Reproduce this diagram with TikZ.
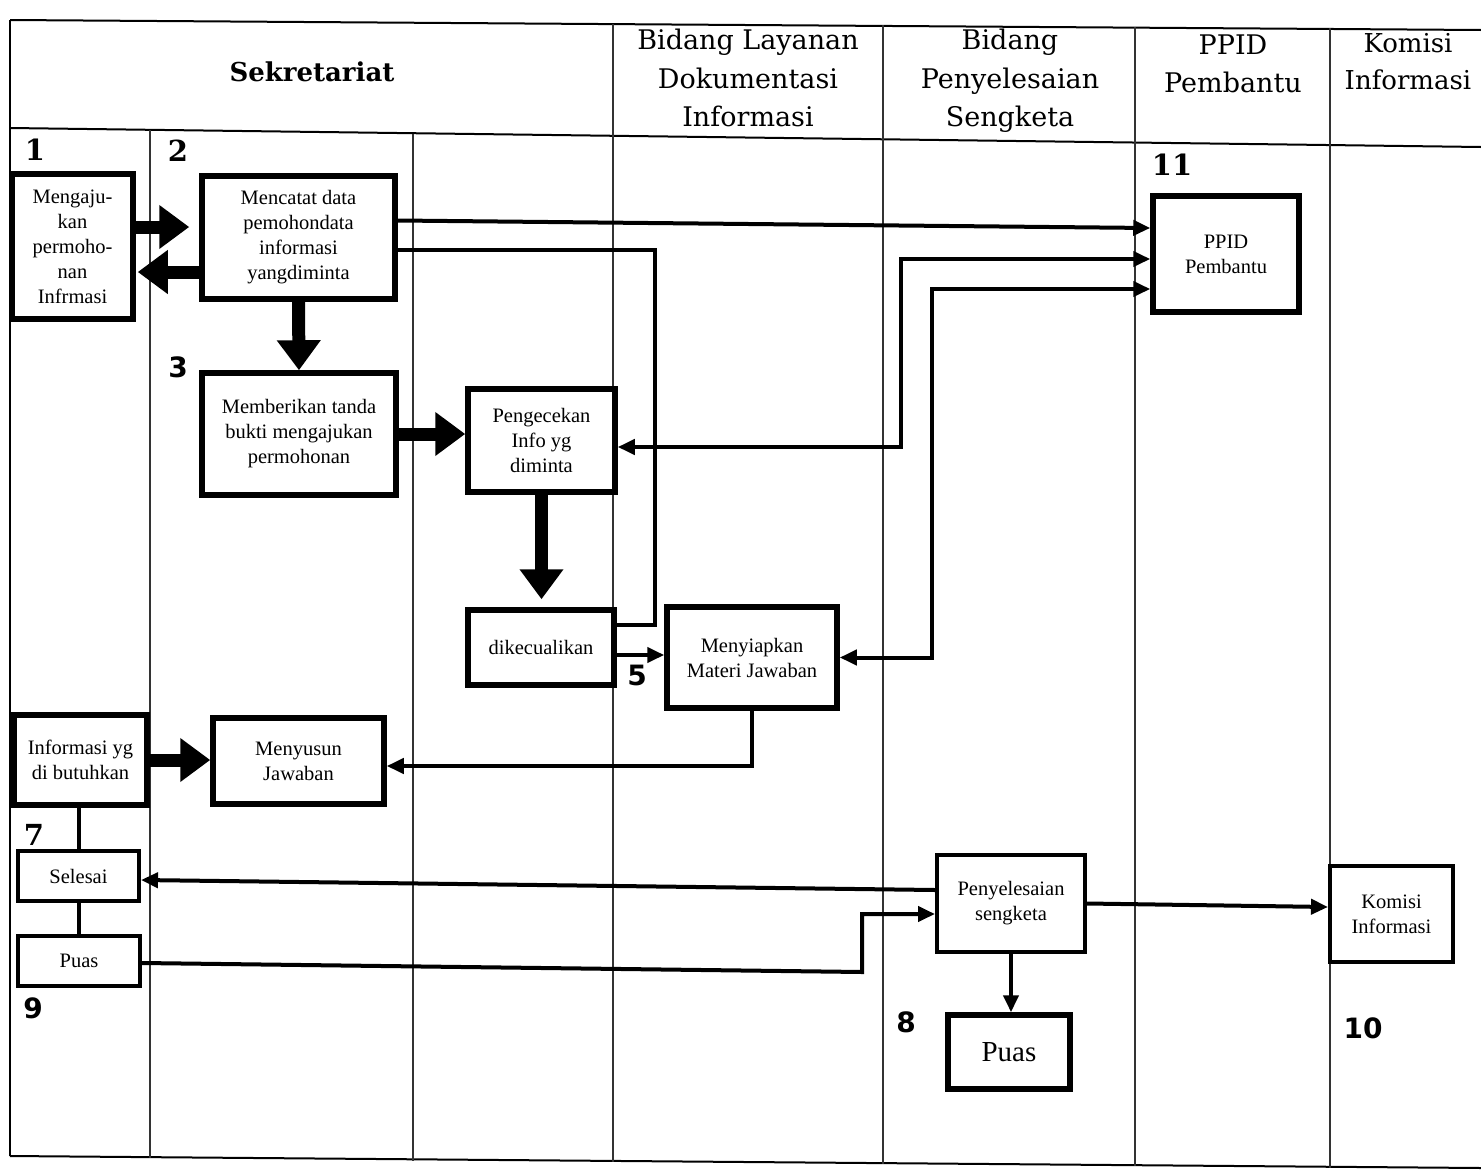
\documentclass[tikz,border=0pt]{standalone}
\usepackage{fontspec}
\setmainfont{Liberation Serif}
\newfontfamily\hdfont{DejaVu Serif}
\newfontfamily\numsans{DejaVu Sans}
\usetikzlibrary{arrows.meta,calc}
\begin{document}
\begin{tikzpicture}[x=1pt,y=-1pt,
  grid/.style={line width=1.2pt,black!80},
  frame/.style={line width=2pt},
  box/.style={draw,line width=5.5pt,inner sep=0pt,align=center,font=\fontsize{20.5}{25}\selectfont},
  tbox/.style={box,line width=4pt},
  hdr/.style={align=center,font=\hdfont\fontsize{27}{38.5}\selectfont},
  numl/.style={font=\hdfont\bfseries\fontsize{29}{30}\selectfont},
  nums/.style={font=\numsans\bfseries\fontsize{28}{30}\selectfont},
  conn/.style={line width=4pt,-{Triangle[length=17pt,width=15pt]}},
  bidir/.style={line width=4pt,{Triangle[length=17pt,width=15pt]}-{Triangle[length=17pt,width=15pt]}},
  plain/.style={line width=4pt},
  fat/.style={line width=13pt,-{Triangle[length=30pt,width=42pt]}}]
\useasboundingbox (0,0) rectangle (1481,1173);
\fill[white] (0,0) rectangle (1481,1173);
% table frame
\draw[frame] (10,20) -- (1481,30);
\draw[frame] (10,128) -- (1481,147);
\draw[frame] (10,1156) -- (1481,1168);
\draw[frame] (10,20) -- (10,1156);
\draw[grid] (150,130) -- (150,1158);
\draw[grid] (413,134) -- (413,1161);
\draw[grid] (613,24) -- (613,1162);
\draw[grid] (883,25) -- (883,1164);
\draw[grid] (1135,27) -- (1135,1166);
\draw[grid] (1330,28) -- (1330,1168);
% headers
\node[hdr,font=\hdfont\bfseries\fontsize{26}{30}\selectfont] (h1) at (312,72) {Sekretariat};
\node[hdr] (h2) at (748,78) {Bidang Layanan\\Dokumentasi\\Informasi};
\node[hdr] (h3) at (1010,81) {Bidang\\Penyelesaian\\Sengketa};
\node[hdr] (h4) at (1233,64) {PPID\\Pembantu};
\node[hdr,font=\hdfont\fontsize{26}{37}\selectfont] (h5) at (1408,62) {Komisi\\Informasi};
% boxes
\node[box,minimum width=121pt,minimum height=145pt] (b1) at (72.5,246.5) {Mengaju-\\kan\\permoho-\\nan\\Infrmasi};
\node[box,minimum width=193pt,minimum height=123pt] (b2) at (298.5,237.5) {Mencatat data\\pemohondata\\informasi\\yangdiminta};
\node[box,minimum width=194pt,minimum height=122pt] (b3) at (299,434) {Memberikan tanda\\bukti mengajukan\\permohonan};
\node[box,minimum width=147pt,minimum height=103pt] (b4) at (541.5,440.5) {Pengecekan\\Info yg\\diminta};
\node[box,minimum width=146pt,minimum height=75pt] (b5) at (541,647.5) {dikecualikan};
\node[box,minimum width=170pt,minimum height=101pt] (b6) at (752,657.5) {Menyiapkan\\Materi Jawaban};
\node[box,minimum width=133pt,minimum height=90pt] (b7) at (80.5,760) {Informasi yg\\di butuhkan};
\node[box,minimum width=171pt,minimum height=86pt] (b8) at (298.5,761) {Menyusun\\Jawaban};
\node[tbox,minimum width=121pt,minimum height=50pt] (b9) at (78.5,876) {Selesai};
\node[tbox,minimum width=122pt,minimum height=50pt] (b10) at (79,961) {Puas};
\node[tbox,minimum width=148pt,minimum height=97pt] (b11) at (1011,903.5) {Penyelesaian\\sengketa};
\node[box,minimum width=122pt,minimum height=74pt,font=\fontsize{29}{32}\selectfont] (b12) at (1009,1052) {Puas};
\node[tbox,minimum width=123pt,minimum height=96pt] (b13) at (1391.5,914) {Komisi\\Informasi};
\node[box,minimum width=146pt,minimum height=116pt] (b14) at (1226,254) {PPID\\Pembantu};
% step numbers
\node[numl] (n1) at (35,150) {1};
\node[numl] (n2) at (178,151) {2};
\node[nums] (n3) at (178,367) {3};
\node[nums] (n5) at (637,675) {5};
\node[numl] (n7) at (34,835) {7};
\node[nums] (n8) at (906,1022) {8};
\node[nums] (n9) at (33,1008) {9};
\node[nums] (n10) at (1363,1028) {10};
\node[numl] (n11) at (1172,165) {11};
% fat arrows
\coordinate (f1) at ([yshift=19.5pt]b1.east);
\draw[fat] (f1) -- ($(f1 -| b2.west)+(-10,0)$);
\coordinate (f2) at ([yshift=-34.5pt]b2.west);
\draw[fat] (f2) -- ($(f2 -| b1.east)+(2,0)$);
\draw[fat] (b2.south) -- (b3.north);
\draw[fat] (b3.east) -- (b3.east -| b4.west);
\draw[fat,shorten >=8pt] (b4.south) -- (b4.south |- b5.north);
\draw[fat] (b7.east) -- (b7.east -| b8.west);
% thin connectors
\draw[conn] ([yshift=17pt]b2.east) -- ([yshift=26pt]b14.west);
\draw[plain] ([yshift=-12.5pt]b2.east) -| ([xshift=38pt,yshift=22.5pt]b5.east) -- ([yshift=22.5pt]b5.east);
\draw[bidir] ([yshift=-6.5pt]b4.east) -| ([xshift=-249pt,yshift=-5pt]b14.west) -- ([yshift=-5pt]b14.west);
\draw[bidir] (b6.east) -| ([xshift=-218pt,yshift=-35pt]b14.west) -- ([yshift=-35pt]b14.west);
\coordinate (p5) at ([yshift=-7.5pt]b5.east);
\draw[conn] (p5) -- (p5 -| b6.west);
\draw[conn] (b6.south) |- ([yshift=-5pt]b8.east);
\draw[plain] (b9.north) -- (b9.north |- b7.south);
\draw[plain] (b9.south) -- (b9.south |- b10.north);
\draw[conn] ([yshift=13.5pt]b11.west) -- ([yshift=-4pt]b9.east);
\draw[conn] ([yshift=-2pt]b10.east) -- ++(720,9) |- ([yshift=-10.5pt]b11.west);
\draw[conn] (b11.east) -- ([yshift=7pt]b13.west);
\draw[conn] (b11.south) -- (b11.south |- b12.north);
\end{tikzpicture}
\end{document}
